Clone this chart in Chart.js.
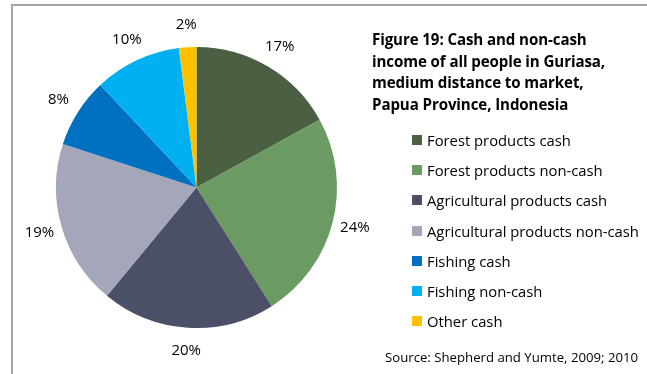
<!DOCTYPE html>
<html>
<head>
<meta charset="utf-8">
<script src="https://cdn.jsdelivr.net/npm/chart.js@4"></script>
<style>
  html, body { margin: 0; padding: 0; background: #fff; }
  #wrap { position: relative; width: 647px; height: 374px; overflow: hidden; font-family: "Open Sans", sans-serif; }
  #frame { position: absolute; left: 11px; top: 4px; width: 700px; height: 400px;
           border-left: 2px solid #a6a6a6; border-top: 2px solid #a6a6a6; }
  #chart { position: absolute; left: 0; top: 0; }
  #title { position: absolute; left: 372px; top: 29px; font-weight: bold; font-size: 15.1px;
           line-height: 21.5px; color: #000; letter-spacing: -0.1px; }
  #legend { position: absolute; left: 412px; top: 130px; }
  .item { height: 20px; margin-bottom: 10.2px; display: flex; align-items: center; font-size: 14.8px; color: #000; white-space: nowrap; }
  .box { width: 10px; height: 10px; margin-right: 5px; flex: none; }
  #source { position: absolute; left: 385px; top: 348px; font-size: 13.2px; color: #000; }
</style>
</head>
<body>
<div id="wrap">
  <div id="frame"></div>
  <canvas id="chart" width="647" height="374"></canvas>
  <div id="title">Figure 19: Cash and non-cash<br>income of all people in Guriasa,<br>medium distance to market,<br>Papua Province, Indonesia</div>
  <div id="legend"></div>
  <div id="source">Source: Shepherd and Yumte, 2009; 2010</div>
</div>
<script>
const categories = [
  "Forest products cash",
  "Forest products non-cash",
  "Agricultural products cash",
  "Agricultural products non-cash",
  "Fishing cash",
  "Fishing non-cash",
  "Other cash"
];
const shares = [17, 24, 20, 19, 8, 10, 2];
const colors = ["#4b6043", "#6b9a62", "#4b5068", "#a3a7b9", "#0070c0", "#00b0f0", "#ffc000"];

// percentage labels outside the pie
const outsideLabels = {
  id: "outsideLabels",
  afterDatasetsDraw(chart) {
    const ctx = chart.ctx;
    const meta = chart.getDatasetMeta(0);
    ctx.save();
    ctx.font = "15px 'Open Sans', sans-serif";
    ctx.fillStyle = "#000";
    ctx.textAlign = "center";
    ctx.textBaseline = "middle";
    meta.data.forEach((arc, i) => {
      const p = arc.getProps(["x", "y", "startAngle", "endAngle", "outerRadius"], true);
      const mid = (p.startAngle + p.endAngle) / 2;
      const r = p.outerRadius + 23;
      ctx.fillText(shares[i] + "%", p.x + Math.cos(mid) * r, p.y + Math.sin(mid) * r);
    });
    ctx.restore();
  }
};

function buildLegend() {
  const box = document.getElementById("legend");
  categories.forEach((c, i) => {
    const div = document.createElement("div");
    div.className = "item";
    div.innerHTML = `<span class="box" style="background:${colors[i]}"></span><span>${c}</span>`;
    box.appendChild(div);
  });
}

window.addEventListener("load", () => {
  buildLegend();
  new Chart(document.getElementById("chart").getContext("2d"), {
    type: "pie",
    data: {
      labels: categories,
      datasets: [{ data: shares, backgroundColor: colors, borderWidth: 0 }]
    },
    options: {
      responsive: false,
      animation: false,
      layout: { padding: { left: 56, right: 310, top: 47, bottom: 46 } },
      plugins: { legend: { display: false }, tooltip: { enabled: false } }
    },
    plugins: [outsideLabels]
  });
});
</script>
</body>
</html>
